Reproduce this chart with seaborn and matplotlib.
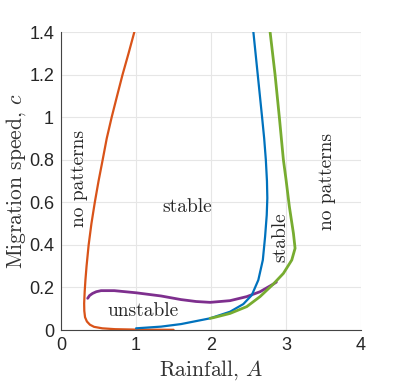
import numpy as np
import pandas as pd
import seaborn as sns
import matplotlib.pyplot as plt

# curves (rainfall A, migration speed c)
orange_A = [0.977, 0.90, 0.82, 0.747, 0.675, 0.609, 0.555, 0.50, 0.45, 0.405, 0.368, 0.34, 0.325,
            0.315, 0.308, 0.31, 0.32, 0.345, 0.385, 0.44, 0.55, 0.72, 1.0, 1.5]
orange_c = [1.40, 1.30, 1.20, 1.10, 1.00, 0.90, 0.80, 0.70, 0.60, 0.50, 0.40, 0.30, 0.235,
            0.18, 0.125, 0.09, 0.06, 0.04, 0.025, 0.015, 0.008, 0.004, 0.002, 0.001]

purple_A = [0.355, 0.38, 0.42, 0.47, 0.533, 0.71, 1.0, 1.333, 1.6, 1.8, 1.987, 2.253, 2.476, 2.653, 2.83, 2.87]
purple_c = [0.149, 0.162, 0.172, 0.180, 0.185, 0.185, 0.175, 0.160, 0.143, 0.134, 0.130, 0.138, 0.157,
            0.180, 0.216, 0.225]

blue_A = [1.0, 1.333, 1.6, 1.987, 2.253, 2.43, 2.543, 2.63, 2.69, 2.72, 2.742, 2.75, 2.745, 2.73,
          2.708, 2.68, 2.622, 2.564]
blue_c = [0.008, 0.016, 0.028, 0.055, 0.086, 0.122, 0.164, 0.235, 0.329, 0.438, 0.54, 0.62, 0.70,
          0.80, 0.90, 1.00, 1.20, 1.40]

green_A = [1.987, 2.03, 2.253, 2.476, 2.653, 2.83, 2.964, 3.076, 3.12, 3.098, 3.044, 3.0, 2.964,
           2.91, 2.853, 2.787]
green_c = [0.055, 0.058, 0.078, 0.110, 0.157, 0.216, 0.266, 0.329, 0.384, 0.454, 0.579, 0.705, 0.80,
           1.00, 1.20, 1.40]

sns.set_style("whitegrid")
plt.rcParams["mathtext.fontset"] = "cm"
plt.rcParams["axes.unicode_minus"] = False
plt.rcParams["font.family"] = ["Liberation Sans", "DejaVu Sans"]

fig = plt.figure(figsize=(3.99, 3.86), dpi=100)
ax = fig.add_axes([0.153, 0.145, 0.752, 0.772])

curves = [
    (orange_A, orange_c, "#D95319", 1.6),
    (purple_A, purple_c, "#7E2F8E", 2.0),
    (blue_A, blue_c, "#0072BD", 1.6),
    (green_A, green_c, "#77AC30", 2.0),
]
for xs, ys, col, w in curves:
    df = pd.DataFrame({"A": xs, "c": ys})
    sns.lineplot(data=df, x="A", y="c", sort=False, estimator=None, color=col, lw=w, ax=ax)

ax.set_xlim(0, 4)
ax.set_ylim(0, 1.4)
ax.set_xticks([0, 1, 2, 3, 4])
ax.set_yticks([0, 0.2, 0.4, 0.6, 0.8, 1.0, 1.2, 1.4])
ax.set_yticklabels(["0", "0.2", "0.4", "0.6", "0.8", "1", "1.2", "1.4"])
ax.tick_params(labelsize=13, direction="in", length=3, color="#333333", colors="#262626", pad=5)
ax.grid(True, color="#e6e6e6", lw=0.8)

for s in ["top", "right"]:
    ax.spines[s].set_visible(False)
for s in ["left", "bottom"]:
    ax.spines[s].set_color("#444444")
    ax.spines[s].set_linewidth(0.8)

serif = ["cmr10", "DejaVu Serif"]
ax.set_xlabel("Rainfall, $A$", fontsize=15.5, family=serif, color="#333333", labelpad=3)
ax.set_ylabel("Migration speed, $c$", fontsize=15.5, family=serif, color="#333333", labelpad=1)

ax.text(0.236, 0.713, "no patterns", rotation=90, ha="center", va="center", fontsize=14, family=serif)
ax.text(3.54, 0.70, "no patterns", rotation=90, ha="center", va="center", fontsize=14, family=serif)
ax.text(1.68, 0.578, "stable", ha="center", va="center", fontsize=14, family=serif)
ax.text(2.92, 0.438, "stable", rotation=90, ha="center", va="center", fontsize=14, family=serif)
ax.text(1.096, 0.09, "unstable", ha="center", va="center", fontsize=14, family=serif)

fig.savefig("out.png", dpi=100)
